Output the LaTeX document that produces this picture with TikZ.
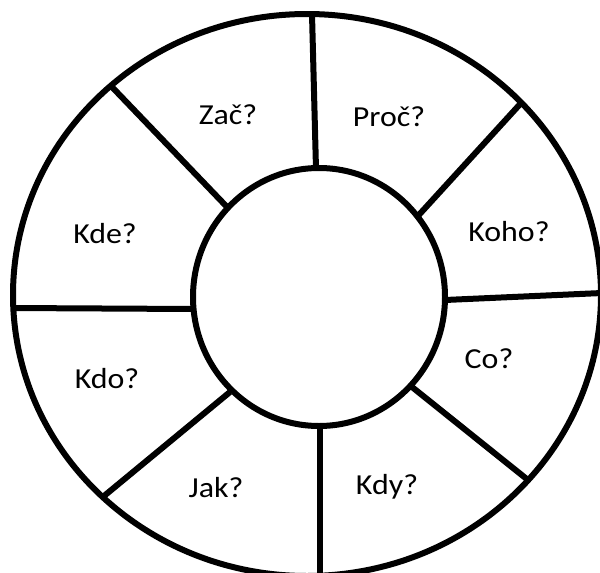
\documentclass[tikz,border=0pt]{standalone}
\usepackage{fontspec}
\setmainfont{Carlito}[FakeStretch=1.1]
\begin{document}
\begin{tikzpicture}[x=1pt,y=-1pt,
  ring/.style={line width=6pt, draw=black},
  spoke/.style={line width=6pt, draw=black},
  lbl/.style={anchor=base, inner sep=0pt, font=\fontsize{29}{34}\selectfont, text=black}]
\useasboundingbox (0,0) rectangle (600,573);
\clip (0,0) rectangle (600,573);
\fill[white] (0,0) rectangle (600,573);
% outer and inner rings
\draw[ring] (307,295) ellipse [x radius=294, y radius=281];
\draw[ring] (319,297) ellipse [x radius=126, y radius=129];
% spoke end points: inner (i) and outer (o)
\coordinate (iT) at (316,169);   \coordinate (oT) at (312,14);
\coordinate (iUR) at (417,217);  \coordinate (oUR) at (522,102);
\coordinate (iR) at (445,300);   \coordinate (oR) at (602,293);
\coordinate (iLR) at (412,387);  \coordinate (oLR) at (528,480);
\coordinate (iB) at (320,426);   \coordinate (oB) at (320,578);
\coordinate (iLL) at (230,392);  \coordinate (oLL) at (104,496);
\coordinate (iL) at (193,309);   \coordinate (oL) at (12,308);
\coordinate (iUL) at (228,208);  \coordinate (oUL) at (112,87);
\draw[spoke] (iT) -- (oT);
\draw[spoke] (iUR) -- (oUR);
\draw[spoke] (iR) -- (oR);
\draw[spoke] (iLR) -- (oLR);
\draw[spoke] (iB) -- (oB);
\draw[spoke] (iLL) -- (oLL);
\draw[spoke] (iL) -- (oL);
\draw[spoke] (iUL) -- (oUL);
% labels
\node[lbl] (zac)  at (228,124) {Zač?};
\node[lbl] (proc) at (389,126) {Proč?};
\node[lbl] (kde)  at (105,243) {Kde?};
\node[lbl] (koho) at (509,241) {Koho?};
\node[lbl] (kdo)  at (107,388) {Kdo?};
\node[lbl] (co)   at (489,368) {Co?};
\node[lbl] (jak)  at (216,497) {Jak?};
\node[lbl] (kdy)  at (387,494) {Kdy?};
\end{tikzpicture}
\end{document}
